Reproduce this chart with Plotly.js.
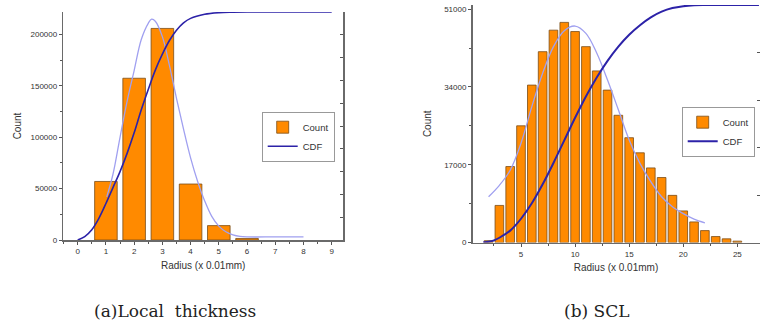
<!DOCTYPE html>
<html>
<head>
<meta charset="utf-8">
<script src="https://cdn.plot.ly/plotly-3.0.1.min.js"></script>
<style>html,body{margin:0;padding:0;background:#fff;}#chart{width:760px;height:325px;}</style>
</head>
<body>
<div id="chart"></div>
<script>
// (a) Local thickness
const radiusA = [1, 2, 3, 4, 5, 6];
const countA = [57000, 157500, 206000, 54500, 14000, 1500];
const fitAx = [1.03, 1.25, 1.5, 1.75, 2.0, 2.25, 2.5, 2.62, 2.75, 3.0, 3.25, 3.5, 3.75, 4.0, 4.25, 4.5, 4.75, 5.0, 5.25, 5.5, 5.75, 6.0, 7.0, 8.0];
const fitAy = [42000, 64000, 100000, 135000, 165000, 195000, 211000, 215000, 213000, 198000, 170000, 138000, 108000, 80000, 57000, 38000, 23000, 13500, 8000, 5000, 3500, 3000, 3000, 3000];
const cdfAx = [0, 0.25, 0.5, 0.75, 1.0, 1.25, 1.5, 1.75, 2.0, 2.25, 2.5, 2.75, 3.0, 3.25, 3.5, 3.75, 4.0, 4.5, 5.0, 5.5, 6, 7, 8, 9];
const cdfAy = [0, 0.015, 0.045, 0.095, 0.16, 0.23, 0.30, 0.38, 0.47, 0.57, 0.66, 0.745, 0.815, 0.875, 0.92, 0.952, 0.972, 0.99, 0.997, 0.999, 1, 1, 1, 1];
const xTicksA = [0, 1, 2, 3, 4, 5, 6, 7, 8, 9];
const yTicksA = [0, 50000, 100000, 150000, 200000];

// (b) SCL
const radiusB = [2, 3, 4, 5, 6, 7, 8, 9, 10, 11, 12, 13, 14, 15, 16, 17, 18, 19, 20, 21, 22, 23, 24, 25];
const countB = [400, 8100, 16600, 25500, 34400, 41700, 46400, 48100, 46100, 42800, 37500, 33300, 27800, 22900, 19600, 16300, 14200, 10300, 6900, 4500, 2600, 1300, 800, 300];
const fitBx = [2, 3, 4, 5, 6, 7, 8, 9, 10, 11, 12, 13, 14, 15, 16, 17, 18, 19, 20, 21, 22];
const fitBy = [10000, 12500, 15800, 21700, 29700, 37000, 42800, 46300, 47300, 45700, 41400, 35500, 29000, 22400, 17300, 13300, 10000, 7800, 6300, 5100, 4300];
const cdfBx = [1.5, 2, 2.5, 3, 4, 5, 6, 7, 8, 9, 10, 11, 12, 13, 14, 15, 16, 17, 18, 19, 20, 21, 22, 24, 27];
const cdfBy = [0, 0.003, 0.009, 0.02, 0.05, 0.10, 0.165, 0.245, 0.335, 0.43, 0.525, 0.615, 0.695, 0.765, 0.825, 0.875, 0.915, 0.948, 0.972, 0.987, 0.995, 0.999, 1, 1, 1];
const xTicksB = [5, 10, 15, 20, 25];
const yTicksB = [0, 17000, 34000, 51000];

const captions = ['(a)Local  thickness', '(b) SCL'];

const ORANGE = '#FF8A00';
const EDGE = '#7a4c18';
const FIT = '#a0a0f0';
const CDF = '#2c22a8';
const tickFont = {family: 'Arial, Liberation Sans, sans-serif', size: 8, color: '#333'};
const titleFont = {family: 'Arial, Liberation Sans, sans-serif', size: 10, color: '#333'};

const traces = [
  {type: 'bar', x: radiusA, y: countA, name: 'Count', width: 0.8, xaxis: 'x', yaxis: 'y',
   marker: {color: ORANGE, line: {color: EDGE, width: 0.8}}, legend: 'legend'},
  {type: 'scatter', mode: 'lines', x: fitAx, y: fitAy, xaxis: 'x', yaxis: 'y', showlegend: false,
   line: {color: FIT, width: 1.3, shape: 'spline'}},
  {type: 'scatter', mode: 'lines', x: cdfAx, y: cdfAy, name: 'CDF', xaxis: 'x', yaxis: 'y3',
   line: {color: CDF, width: 1.6, shape: 'spline'}, legend: 'legend'},
  {type: 'bar', x: radiusB, y: countB, name: 'Count', width: 0.8, xaxis: 'x2', yaxis: 'y2',
   marker: {color: ORANGE, line: {color: EDGE, width: 0.8}}, legend: 'legend2'},
  {type: 'scatter', mode: 'lines', x: fitBx, y: fitBy, xaxis: 'x2', yaxis: 'y2', showlegend: false,
   line: {color: FIT, width: 1.3, shape: 'spline'}},
  {type: 'scatter', mode: 'lines', x: cdfBx, y: cdfBy, name: 'CDF', xaxis: 'x2', yaxis: 'y4',
   line: {color: CDF, width: 2, shape: 'spline'}, legend: 'legend2'}
];

const axLine = {showline: true, linecolor: '#6a6a6a', linewidth: 1.5, showgrid: false, zeroline: false,
  ticks: 'outside', ticklen: 3, tickcolor: '#555', tickfont: tickFont, tickformat: 'd'};

const legendFont = {family: 'Arial, Liberation Sans, sans-serif', size: 9.5, color: '#333'};

const layout = {
  width: 760, height: 325,
  margin: {l: 0, r: 0, t: 0, b: 0},
  paper_bgcolor: '#fff', plot_bgcolor: 'rgba(0,0,0,0)',
  barmode: 'overlay',
  xaxis: Object.assign({}, axLine, {domain: [63.3/760, 343/760], range: [-0.51, 9.40], anchor: 'y',
    tickvals: xTicksA, minor: {dtick: 0.5, ticks: 'outside', ticklen: 2, tickcolor: '#555'},
    title: {text: 'Radius (x 0.01mm)', font: titleFont, standoff: 7}}),
  yaxis: Object.assign({}, axLine, {domain: [(325-240)/325, (325-12)/325], range: [0, 222000], anchor: 'x',
    tickvals: yTicksA, minor: {dtick: 25000, ticks: 'outside', ticklen: 2, tickcolor: '#555'},
    title: {text: 'Count', font: titleFont, standoff: 7}}),
  yaxis3: {overlaying: 'y', side: 'right', anchor: 'x', range: [0, 1], showline: true, linecolor: '#6a6a6a', linewidth: 1.5,
    showgrid: false, zeroline: false, ticks: 'inside', ticklen: 3, tickcolor: '#555', dtick: 0.1, showticklabels: false},
  xaxis2: Object.assign({}, axLine, {domain: [472.5/760, 759.5/760], range: [0.515, 27.05], anchor: 'y2',
    tickvals: xTicksB, minor: {dtick: 2.5, ticks: 'outside', ticklen: 2, tickcolor: '#555'},
    title: {text: 'Radius (x 0.01mm)', font: titleFont, standoff: 6}}),
  yaxis2: Object.assign({}, axLine, {domain: [(325-242.5)/325, (325-5)/325], range: [0, 51900], anchor: 'x2',
    tickvals: yTicksB, minor: {dtick: 8500, ticks: 'outside', ticklen: 2, tickcolor: '#555'},
    title: {text: 'Count', font: titleFont, standoff: 10}}),
  yaxis4: {overlaying: 'y2', side: 'right', anchor: 'x2', range: [0, 1], showline: true, linecolor: '#6a6a6a', linewidth: 1.5,
    showgrid: false, zeroline: false, ticks: 'inside', ticklen: 3, tickcolor: '#555', dtick: 0.2, showticklabels: false},
  legend: {x: 261.7/760, y: 1 - 111.7/325, xanchor: 'left', yanchor: 'top', bgcolor: '#fff', bordercolor: '#999', borderwidth: 1,
    font: legendFont, itemwidth: 30, tracegroupgap: 0, traceorder: 'normal'},
  legend2: {x: 681.7/760, y: 1 - 106.7/325, xanchor: 'left', yanchor: 'top', bgcolor: '#fff', bordercolor: '#999', borderwidth: 1,
    font: legendFont, itemwidth: 30, tracegroupgap: 0, traceorder: 'normal'},
  annotations: [
    {text: captions[0], xref: 'paper', yref: 'paper', x: 175/760, y: 1 - 311/325, xanchor: 'center', yanchor: 'middle', showarrow: false,
     font: {family: 'DejaVu Serif, serif', size: 17, color: '#222'}},
    {text: captions[1], xref: 'paper', yref: 'paper', x: 597/760, y: 1 - 311/325, xanchor: 'center', yanchor: 'middle', showarrow: false,
     font: {family: 'DejaVu Serif, serif', size: 17, color: '#222'}}
  ],
  showlegend: true
};

Plotly.newPlot('chart', traces, layout, {staticPlot: true, displayModeBar: false});
</script>
</body>
</html>
